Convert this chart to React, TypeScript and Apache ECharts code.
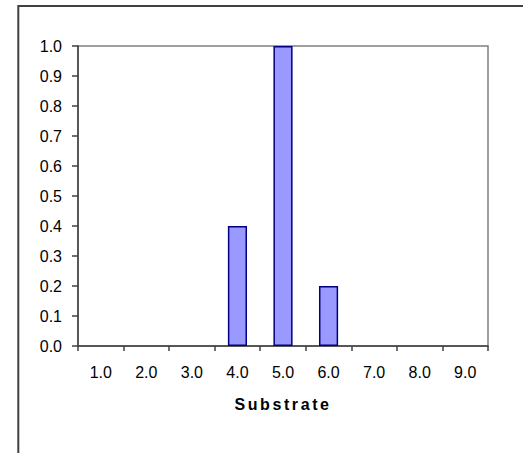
import React, { useEffect, useRef } from "react";
import * as echarts from "echarts";

const categories = ["1.0", "2.0", "3.0", "4.0", "5.0", "6.0", "7.0", "8.0", "9.0"];
const values = [0, 0, 0, 0.4, 1.0, 0.2, 0, 0, 0];
const yTicks = { min: 0, max: 1, interval: 0.1 };
const xTitle = "Substrate";

const FONT = "'Liberation Sans', Arial, sans-serif";

export default function App() {
  const ref = useRef<HTMLDivElement>(null);
  useEffect(() => {
    document.body.style.margin = "0";
    const chart = echarts.init(ref.current!, null, { renderer: "svg" });
    chart.setOption({
      animation: false,
      backgroundColor: "#ffffff",
      graphic: [
        {
          type: "rect",
          shape: { x: 18.3, y: 6, width: 700, height: 700 },
          style: { fill: "none", stroke: "#404040", lineWidth: 2 },
          silent: true,
          z: -1,
        },
      ],
      grid: {
        left: 78,
        top: 46,
        width: 410,
        height: 300,
        show: true,
        borderColor: "#808080",
        borderWidth: 1.5,
        backgroundColor: "transparent",
      },
      xAxis: {
        type: "category",
        data: categories,
        name: xTitle,
        nameLocation: "middle",
        nameGap: 50,
        nameTextStyle: { fontFamily: FONT, fontSize: 16, fontWeight: "bold", color: "#000" },
        axisLine: { lineStyle: { color: "#404040", width: 1.5 } },
        axisTick: { show: true, length: 5, lineStyle: { color: "#404040", width: 1.5 } },
        axisLabel: { margin: 18, fontFamily: FONT, fontSize: 16, color: "#000" },
        splitLine: { show: false },
      },
      yAxis: {
        type: "value",
        min: yTicks.min,
        max: yTicks.max,
        interval: yTicks.interval,
        axisLine: { show: true, lineStyle: { color: "#404040", width: 1.5 } },
        axisTick: { show: true, length: 6, lineStyle: { color: "#404040", width: 1.5 } },
        axisLabel: {
          margin: 16,
          fontFamily: FONT,
          fontSize: 16,
          color: "#000",
          formatter: (v: number) => v.toFixed(1),
        },
        splitLine: { show: false },
      },
      series: [
        {
          type: "bar",
          data: values.map((v) => (v === 0 ? null : v)),
          barWidth: "42%",
          itemStyle: { color: "#9999FF", borderColor: "#000080", borderWidth: 1.5 },
        },
      ],
    });
    const spaceTitle = () => {
      ref.current?.querySelectorAll("text").forEach((t) => {
        if (t.textContent === xTitle) t.setAttribute("letter-spacing", "2.6px");
      });
    };
    chart.on("finished", spaceTitle);
    const timer = setTimeout(spaceTitle, 50);
    return () => {
      clearTimeout(timer);
      chart.dispose();
    };
  }, []);
  return <div ref={ref} style={{ position: "fixed", left: 0, top: 0, width: 523, height: 453 }} />;
}
